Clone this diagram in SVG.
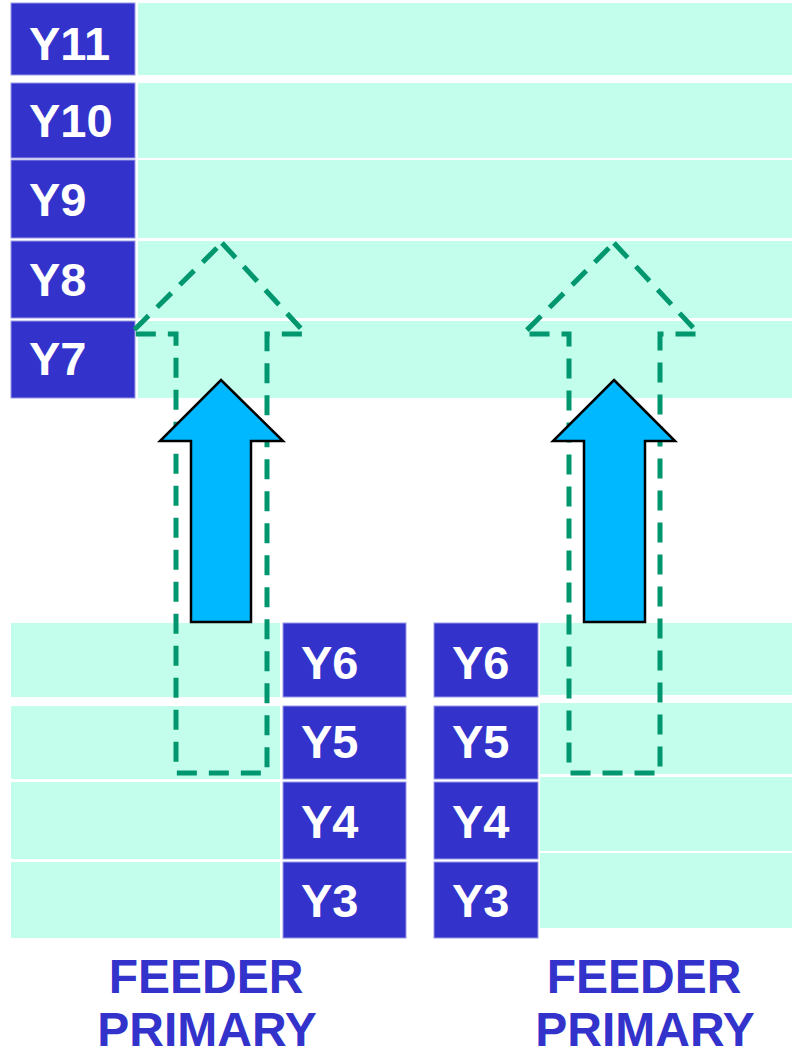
<svg xmlns="http://www.w3.org/2000/svg" width="792" height="1050" viewBox="0 0 792 1050">
<style>
.bar{fill:#c3fdec}
.box{fill:#3333cc;stroke:#9a9ae6;stroke-width:1}
.lbl{font-family:"Liberation Sans",Arial,sans-serif;font-weight:bold;font-size:47px;fill:#ffffff}
.cap{font-family:"Liberation Sans",Arial,sans-serif;font-weight:bold;font-size:48px;fill:#3333cc;text-anchor:middle}
.dash{fill:none;stroke:#00966e;stroke-width:5;stroke-dasharray:20,12}
.solid{fill:#00b8ff;stroke:#000000;stroke-width:2.5}
</style>
<rect width="792" height="1050" fill="#ffffff"/>
<g id="top-bars">
<rect class="bar" x="138" y="3" width="654" height="72"/>
<rect class="bar" x="138" y="83" width="654" height="75"/>
<rect class="bar" x="138" y="160" width="654" height="78"/>
<rect class="bar" x="138" y="241" width="654" height="77"/>
<rect class="bar" x="138" y="321" width="654" height="77"/>
</g>
<g id="bottom-left-bars">
<rect class="bar" x="11" y="623" width="269" height="74"/>
<rect class="bar" x="11" y="706" width="269" height="73"/>
<rect class="bar" x="11" y="782" width="269" height="77"/>
<rect class="bar" x="11" y="862" width="269" height="76"/>
</g>
<g id="bottom-right-bars">
<rect class="bar" x="540" y="623" width="252" height="72"/>
<rect class="bar" x="540" y="703" width="252" height="71"/>
<rect class="bar" x="540" y="777" width="252" height="74"/>
<rect class="bar" x="540" y="853" width="252" height="75"/>
</g>
<g id="Y11"><rect class="box" x="11" y="3" width="124" height="72"/><text class="lbl" x="29" y="60">Y11</text></g>
<g id="Y10"><rect class="box" x="11" y="83" width="124" height="75"/><text class="lbl" x="29" y="137">Y10</text></g>
<g id="Y9"><rect class="box" x="11" y="160" width="124" height="78"/><text class="lbl" x="29" y="216">Y9</text></g>
<g id="Y8"><rect class="box" x="11" y="241" width="124" height="77"/><text class="lbl" x="29" y="296">Y8</text></g>
<g id="Y7"><rect class="box" x="11" y="321" width="124" height="77"/><text class="lbl" x="29" y="375">Y7</text></g>
<g id="L-Y6"><rect class="box" x="283" y="623" width="123" height="74"/><text class="lbl" x="301" y="679">Y6</text></g>
<g id="L-Y5"><rect class="box" x="283" y="706" width="123" height="73"/><text class="lbl" x="301" y="758">Y5</text></g>
<g id="L-Y4"><rect class="box" x="283" y="782" width="123" height="77"/><text class="lbl" x="301" y="838">Y4</text></g>
<g id="L-Y3"><rect class="box" x="283" y="862" width="123" height="76"/><text class="lbl" x="301" y="917">Y3</text></g>
<g id="R-Y6"><rect class="box" x="434" y="623" width="104" height="74"/><text class="lbl" x="452" y="679">Y6</text></g>
<g id="R-Y5"><rect class="box" x="434" y="706" width="104" height="73"/><text class="lbl" x="452" y="758">Y5</text></g>
<g id="R-Y4"><rect class="box" x="434" y="782" width="104" height="77"/><text class="lbl" x="452" y="838">Y4</text></g>
<g id="R-Y3"><rect class="box" x="434" y="862" width="104" height="76"/><text class="lbl" x="452" y="917">Y3</text></g>
<g id="connectors">
<polygon class="dash" points="222,243 306,334 267,334 267,773 176,773 176,334 130,334"/>
<polygon class="dash" points="614,243 699,334 660,334 660,773 569,773 569,334 523,334"/>
<polygon class="solid" points="221,380 283,441 251,441 251,622 191,622 191,441 160,441"/>
<polygon class="solid" points="614,380 675,441 645,441 645,622 584,622 584,441 553,441"/>
</g>
<g id="caption-left">
<text class="cap" x="206" y="993">FEEDER</text>
<text class="cap" x="207" y="1046">PRIMARY</text>
</g>
<g id="caption-right">
<text class="cap" x="644" y="993">FEEDER</text>
<text class="cap" x="645" y="1046">PRIMARY</text>
</g>
</svg>
